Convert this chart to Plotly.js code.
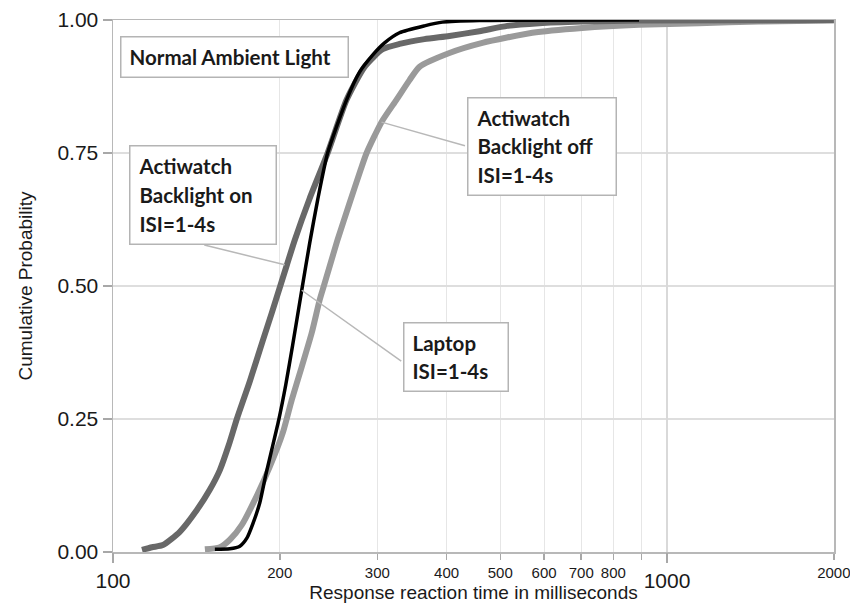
<!DOCTYPE html>
<html>
<head>
<meta charset="utf-8">
<script src="https://cdn.plot.ly/plotly-3.0.1.min.js"></script>
<style>
html,body{margin:0;padding:0;background:#fff;}
#chart{width:850px;height:613px;}
</style>
</head>
<body>
<div id="chart"></div>
<script>
// ---- Data ----
// Actiwatch, backlight on (dark grey)
const backlightOnX = [112.8, 117.6, 123.0, 132.0, 141.7, 149.5, 155.9, 161.8, 167.3, 176.6, 186.3, 193.4, 205.9, 212.8, 226.5, 244.0, 264.0, 284.5, 306.5, 328.9, 364.9, 404.8, 458.5, 514.9, 588.1, 702.9, 890.2, 2000];
const backlightOnY = [0.004, 0.009, 0.013, 0.038, 0.079, 0.117, 0.154, 0.201, 0.250, 0.321, 0.397, 0.449, 0.539, 0.586, 0.665, 0.750, 0.850, 0.912, 0.945, 0.955, 0.964, 0.970, 0.979, 0.989, 0.994, 0.997, 0.999, 1.000];
// Laptop (black)
const laptopX = [152.7, 162.5, 169.4, 174.4, 178.8, 184.0, 188.7, 193.4, 199.1, 205.0, 211.0, 219.1, 226.5, 234.1, 244.0, 264.0, 278.6, 294.1, 309.1, 328.9, 364.9, 393.2, 458.5, 890.2];
const laptopY = [0.005, 0.006, 0.011, 0.026, 0.053, 0.092, 0.145, 0.192, 0.248, 0.314, 0.389, 0.492, 0.581, 0.662, 0.750, 0.850, 0.902, 0.934, 0.957, 0.976, 0.989, 0.996, 0.999, 1.000];
// Actiwatch, backlight off (light grey)
const backlightOffX = [146.5, 155.9, 162.5, 170.8, 180.3, 191.8, 202.5, 210.2, 219.1, 228.4, 236.1, 240.5, 254.3, 267.3, 279.8, 286.9, 305.2, 324.8, 342.9, 357.4, 404.8, 464.2, 571.3, 702.9, 890.2, 1142, 1465, 2000];
const backlightOffY = [0.005, 0.009, 0.023, 0.051, 0.098, 0.160, 0.224, 0.286, 0.348, 0.412, 0.474, 0.502, 0.587, 0.656, 0.718, 0.750, 0.808, 0.850, 0.887, 0.912, 0.938, 0.957, 0.976, 0.985, 0.991, 0.994, 0.997, 0.999];

// ---- Tick labels ----
const xTickVals = [200, 300, 400, 500, 600, 700, 800, 900, 2000];
const xTickText = ['200', '300', '400', '500', '600', '700', '800', '', '2000'];
const xMajorTickVals = [100, 1000];
const xMajorTickText = ['100', '1000'];
const yTickVals = [0, 0.25, 0.5, 0.75, 1];
const yTickText = ['0.00', '0.25', '0.50', '0.75', '1.00'];

// ---- Labels ----
const boxLabels = {
  ambient: ['Normal Ambient Light'],
  on: ['Actiwatch', 'Backlight on', 'ISI=1-4s'],
  off: ['Actiwatch', 'Backlight off', 'ISI=1-4s'],
  laptop: ['Laptop', 'ISI=1-4s']
};

const xRange = [2, Math.log10(2000) + 0.0003];
const tickFont = {family: 'Liberation Sans, Arial, sans-serif', color: '#1a1a1a'};
const smooth = 0.6;

const traces = [
  {x: backlightOffX, y: backlightOffY, mode: 'lines', name: 'Actiwatch Backlight off',
   line: {color: '#9a9a9a', width: 6, shape: 'spline', smoothing: smooth}, hoverinfo: 'x+y'},
  {x: backlightOnX, y: backlightOnY, mode: 'lines', name: 'Actiwatch Backlight on',
   line: {color: '#686868', width: 6, shape: 'spline', smoothing: smooth}, hoverinfo: 'x+y'},
  {x: laptopX, y: laptopY, mode: 'lines', name: 'Laptop',
   line: {color: '#000000', width: 3.5, shape: 'spline', smoothing: smooth}, hoverinfo: 'x+y'},
  // helper (invisible) to register the major-tick axis
  {x: xMajorTickVals, y: [null, null], xaxis: 'x2', mode: 'lines', showlegend: false, hoverinfo: 'skip'}
];

function boxText(lines) {
  return lines.map(function (s) { return '<span style="font-size:20.5px"><b>' + s + '</b></span>'; }).join('<br>');
}

const boxBase = {
  xref: 'paper', yref: 'paper', xanchor: 'left', yanchor: 'top', showarrow: false,
  align: 'left', valign: 'middle', bordercolor: '#b4b4b4', borderwidth: 1.5, borderpad: 8,
  bgcolor: '#ffffff', font: {family: 'Lato, sans-serif', size: 22, color: '#1a1a1a'}
};
const connBase = {
  xref: 'x', yref: 'y', text: '', showarrow: true, arrowhead: 0, arrowwidth: 1.5,
  arrowcolor: '#b8b8b8', standoff: 0
};

const annotations = [
  // connector lines (head on curve, tail toward the label box)
  Object.assign({}, connBase, {x: Math.log10(204.2), y: 0.54, ax: -82, ay: -20}),
  Object.assign({}, connBase, {x: Math.log10(305.2), y: 0.808, ax: 85, ay: 24}),
  Object.assign({}, connBase, {x: Math.log10(219.1), y: 0.492, ax: 101, ay: 72}),
  // label boxes
  Object.assign({}, boxBase, {x: 0.0097, y: 0.970, width: 210, height: 23, text: boxText(boxLabels.ambient)}),
  Object.assign({}, boxBase, {x: 0.0222, y: 0.765, width: 129, height: 81, text: boxText(boxLabels.on)}),
  Object.assign({}, boxBase, {x: 0.491, y: 0.8553, width: 131, height: 80, text: boxText(boxLabels.off)}),
  Object.assign({}, boxBase, {x: 0.4022, y: 0.4323, width: 87, height: 51, text: boxText(boxLabels.laptop)})
];

const layout = {
  width: 850, height: 613,
  margin: {l: 113, r: 16, t: 20, b: 61, pad: 0},
  paper_bgcolor: '#ffffff', plot_bgcolor: '#ffffff',
  showlegend: false,
  xaxis: {
    type: 'log', range: xRange, autorange: false,
    tickmode: 'array', tickvals: xTickVals, ticktext: xTickText,
    tickfont: Object.assign({size: 15}, tickFont), ticklabeloverflow: 'allow',
    ticks: 'outside', ticklen: 6, tickwidth: 1.5, tickcolor: '#a8a8a8',
    showgrid: true, gridcolor: '#e6e6e6', gridwidth: 1,
    showline: true, linecolor: '#b8b8b8', linewidth: 1.5, mirror: true,
    zeroline: false,
    title: {text: 'Response reaction time in milliseconds', standoff: 6,
            font: {family: 'Liberation Sans, Arial, sans-serif', size: 19, color: '#1a1a1a'}}
  },
  xaxis2: {
    type: 'log', range: xRange, autorange: false, overlaying: 'x', side: 'bottom', anchor: 'y',
    tickmode: 'array', tickvals: xMajorTickVals, ticktext: xMajorTickText,
    tickfont: Object.assign({size: 21}, tickFont), ticklabeloverflow: 'allow',
    ticks: 'outside', ticklen: 10, tickwidth: 1.5, tickcolor: '#a8a8a8',
    showgrid: true, gridcolor: '#d9d9d9', gridwidth: 1.2,
    showline: false, zeroline: false
  },
  yaxis: {
    range: [0, 1], autorange: false,
    tickmode: 'array', tickvals: yTickVals, ticktext: yTickText,
    tickfont: Object.assign({size: 21}, tickFont),
    ticks: 'outside', ticklen: 9, tickwidth: 1.5, tickcolor: '#a8a8a8',
    showgrid: true, gridcolor: '#dedede', gridwidth: 1.2,
    showline: true, linecolor: '#b8b8b8', linewidth: 1.5, mirror: true,
    zeroline: false,
    title: {text: 'Cumulative Probability', standoff: 20,
            font: {family: 'Liberation Sans, Arial, sans-serif', size: 19, color: '#1a1a1a'}}
  },
  annotations: annotations
};

Plotly.newPlot('chart', traces, layout, {displayModeBar: false, staticPlot: true});
</script>
</body>
</html>
